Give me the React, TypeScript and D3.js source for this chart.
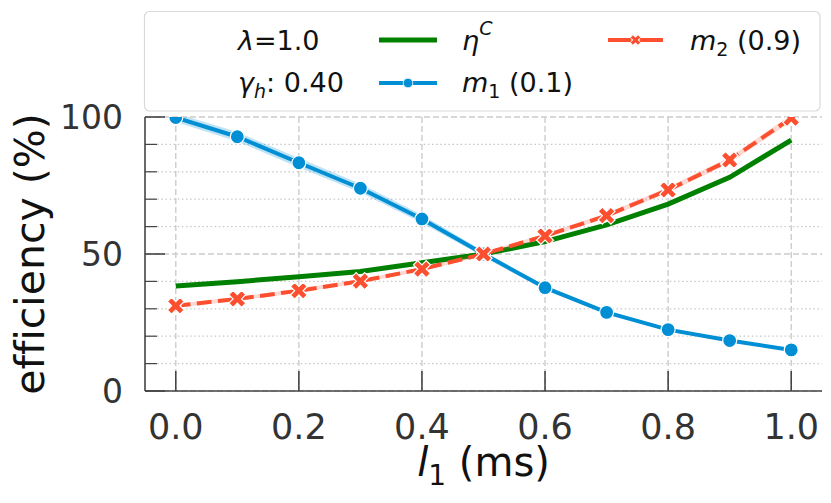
import * as d3 from 'd3';

const xs = [0, 0.1, 0.2, 0.3, 0.4, 0.5, 0.6, 0.7, 0.8, 0.9, 1.0];
const etaC = [38.3, 39.9, 41.7, 43.6, 46.8, 50, 54.5, 60.6, 68.2, 78.0, 91.6];
const m1 = [99.8, 92.8, 83.3, 74.0, 62.8, 50, 37.7, 28.7, 22.4, 18.4, 15.0];
const m1Lo = [98.2, 91.1, 81.6, 72.4, 61.3, 49.0, 36.9, 28.0, 21.8, 17.9, 14.5];
const m1Hi = [101.4, 94.5, 85.0, 75.6, 64.3, 51.0, 38.5, 29.4, 23.0, 18.9, 15.5];
const m2 = [31.1, 33.6, 36.6, 40.1, 44.5, 50, 56.6, 64.0, 73.4, 84.3, 99.6];
const m2Lo = [30.4, 32.9, 35.9, 39.4, 43.8, 49.3, 55.8, 63.1, 72.4, 83.2, 98.4];
const m2Hi = [31.8, 34.3, 37.3, 40.8, 45.2, 50.7, 57.4, 64.9, 74.4, 85.4, 100.8];

const xTicks = [0, 0.2, 0.4, 0.6, 0.8, 1.0];
const yMajor = [0, 50, 100];
const yMinor = [10, 20, 30, 40, 60, 70, 80, 90];

const GREEN = '#008000';
const BLUE = '#008fd5';
const RED = '#fc4f30';
const FONT = '"DejaVu Sans", sans-serif';

const W = 831;
const H = 503;
const left = 145, right = 822, top = 117, bottom = 391;

// filled "X" marker, like matplotlib's 'X'
function xMarker(a: number, w: number) {
  const p = [
    [w, -a], [w, -w], [a, -w], [a, w], [w, w], [w, a],
    [-w, a], [-w, w], [-a, w], [-a, -w], [-w, -w], [-w, -a],
  ];
  return 'M' + p.map(q => q.join(',')).join('L') + 'Z';
}

export default function App() {
  const x = d3.scaleLinear().domain([-0.05, 1.05]).range([left, right]);
  const y = d3.scaleLinear().domain([0, 100]).range([bottom, top]);

  const line = (vals: number[]) =>
    d3.line<number>().x((_, i) => x(xs[i])).y(d => y(d))(vals) || '';
  const band = (lo: number[], hi: number[]) =>
    d3.area<number>()
      .x((_, i) => x(xs[i]))
      .y0((_, i) => y(lo[i]))
      .y1((_, i) => y(hi[i]))(xs) || '';

  const xPath = xMarker(9, 3);
  const xPathSmall = xMarker(5.5, 1.9);

  return (
    <svg width={W} height={H} style={{ position: 'absolute', left: 0, top: 0 }} fontFamily={FONT}>
      <defs>
        <clipPath id="plot">
          <rect x={left} y={top} width={right - left} height={bottom - top} />
        </clipPath>
      </defs>
      <rect width={W} height={H} fill="white" />

      {/* grid */}
      {yMinor.map(v => (
        <line key={'mn' + v} x1={left} x2={right} y1={y(v)} y2={y(v)}
          stroke="#c8c8c8" strokeWidth={1.2} strokeDasharray="1.5,2.6" />
      ))}
      {yMajor.map(v => (
        <line key={'mj' + v} x1={left} x2={right} y1={y(v)} y2={y(v)}
          stroke="#cccccc" strokeWidth={1.4} strokeDasharray="6,3" />
      ))}
      {xTicks.map(v => (
        <line key={'vx' + v} x1={x(v)} x2={x(v)} y1={top} y2={bottom}
          stroke="#cccccc" strokeWidth={1.4} strokeDasharray="6,3" />
      ))}

      {/* series */}
      <g clipPath="url(#plot)">
        <path d={line(etaC)} fill="none" stroke={GREEN} strokeWidth={5} />
        <path d={band(m1Lo, m1Hi)} fill={BLUE} fillOpacity={0.25} />
        <path d={line(m1)} fill="none" stroke={BLUE} strokeWidth={4} />
        {m1.map((v, i) => (
          <circle key={'c' + i} cx={x(xs[i])} cy={y(v)} r={7}
            fill={BLUE} stroke="white" strokeWidth={1.2} />
        ))}
        <path d={band(m2Lo, m2Hi)} fill={RED} fillOpacity={0.22} />
        <path d={line(m2)} fill="none" stroke={RED} strokeWidth={4} strokeDasharray="14.8,6.4" />
        {m2.map((v, i) => (
          <path key={'x' + i} d={xPath}
            transform={`translate(${x(xs[i])},${y(v)}) rotate(45)`}
            fill={RED} stroke="white" strokeWidth={1.2} />
        ))}
      </g>

      {/* spines and ticks */}
      <line x1={left} x2={left} y1={top} y2={bottom} stroke="#444" strokeWidth={1.6} />
      <line x1={left} x2={right} y1={bottom} y2={bottom} stroke="#444" strokeWidth={1.6} />
      {yMajor.map(v => (
        <line key={'ty' + v} x1={left} x2={left + 20} y1={y(v)} y2={y(v)} stroke="#444" strokeWidth={1.6} />
      ))}
      {yMinor.map(v => (
        <line key={'tm' + v} x1={left} x2={left + 12} y1={y(v)} y2={y(v)} stroke="#444" strokeWidth={1.2} />
      ))}
      {xTicks.map(v => (
        <line key={'tx' + v} x1={x(v)} x2={x(v)} y1={bottom} y2={bottom - 20} stroke="#444" strokeWidth={1.6} />
      ))}

      {/* tick labels */}
      {yMajor.map(v => (
        <text key={'ly' + v} x={123} y={y(v)} dy="0.36em" textAnchor="end"
          fontSize={33} fill="#333">{v}</text>
      ))}
      {xTicks.map(v => (
        <text key={'lx' + v} x={x(v)} y={439} textAnchor="middle"
          fontSize={35} fill="#333">{d3.format('.1f')(v)}</text>
      ))}

      {/* axis labels */}
      <text x={(left + right) / 2} y={476} textAnchor="middle" fontSize={40} fill="#111">
        <tspan fontStyle="italic">l</tspan>
        <tspan fontSize={28} dy={9}>1</tspan>
        <tspan dy={-9}> (ms)</tspan>
      </text>
      <text transform={`translate(44,${(top + bottom) / 2}) rotate(-90)`} textAnchor="middle"
        fontSize={41} fill="#111" style={{ fontVariantLigatures: 'none' }}>efficiency (%)</text>

      {/* legend */}
      <rect x={144.5} y={11.5} width={675.5} height={99.5} rx={5}
        fill="white" fillOpacity={0.85} stroke="#d9d9d9" strokeWidth={1.2} />
      <g fontSize={27} fill="#111">
        <text x={238} y={50}>
          <tspan fontStyle="italic">λ</tspan>=1.0
        </text>
        <text x={238} y={92}>
          <tspan fontStyle="italic">γ</tspan>
          <tspan fontStyle="italic" fontSize={19} dy={6}>h</tspan>
          <tspan dy={-6}>: 0.40</tspan>
        </text>

        <line x1={379} x2={437} y1={40} y2={40} stroke={GREEN} strokeWidth={5} />
        <text x={462} y={50}>
          <tspan fontStyle="italic">η</tspan>
          <tspan fontStyle="italic" fontSize={19} dy={-15}>C</tspan>
        </text>

        <line x1={379} x2={437} y1={83} y2={83} stroke={BLUE} strokeWidth={4} />
        <circle cx={408} cy={83} r={4.8} fill={BLUE} stroke="white" strokeWidth={0.8} />
        <text x={462} y={92}>
          <tspan fontStyle="italic">m</tspan>
          <tspan fontSize={19} dy={6}>1</tspan>
          <tspan dy={-6}> (0.1)</tspan>
        </text>

        <line x1={608} x2={663} y1={40} y2={40} stroke={RED} strokeWidth={4} strokeDasharray="23.5,8,30" />
        <path d={xPathSmall} transform="translate(635.5,40) rotate(45)" fill={RED} stroke="white" strokeWidth={0.8} />
        <text x={690} y={50}>
          <tspan fontStyle="italic">m</tspan>
          <tspan fontSize={19} dy={6}>2</tspan>
          <tspan dy={-6}> (0.9)</tspan>
        </text>
      </g>
    </svg>
  );
}
